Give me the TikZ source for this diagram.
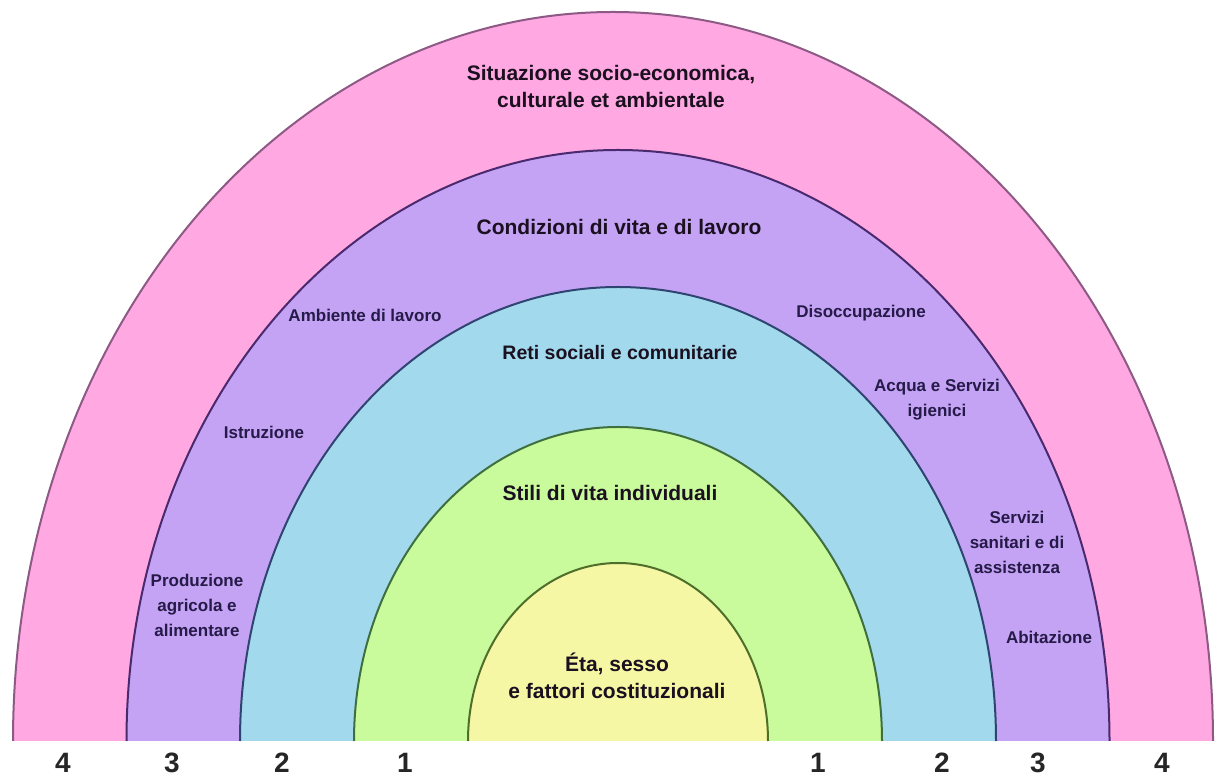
\documentclass[tikz,border=0pt]{standalone}
\usepackage{fontspec}
\setmainfont{Liberation Sans}
\definecolor{pinkF}{HTML}{FFA8E1}
\definecolor{pinkD}{HTML}{8C5A85}
\definecolor{purpF}{HTML}{C4A3F5}
\definecolor{purpD}{HTML}{4A2A6E}
\definecolor{blueF}{HTML}{A2D9EC}
\definecolor{blueD}{HTML}{2F4470}
\definecolor{greenF}{HTML}{C9FA9B}
\definecolor{greenD}{HTML}{3F6F3F}
\definecolor{yellF}{HTML}{F5F7A4}
\definecolor{yellD}{HTML}{4E6E2A}
\definecolor{titlecol}{HTML}{1A1020}
\definecolor{labcol}{HTML}{251A48}
\begin{document}
\begin{tikzpicture}[x=1pt,y=1pt,
  ringline/.style={line width=2pt},
  title/.style={font=\fontsize{21}{27}\selectfont\bfseries, text=titlecol, align=center, inner sep=0pt},
  small/.style={font=\fontsize{17}{25}\selectfont\bfseries, text=labcol, align=center, inner sep=0pt},
  num/.style={font=\fontsize{28}{30}\selectfont\bfseries, text=black!85, inner sep=0pt}]
\path[use as bounding box] (0,0) rectangle (1216,779);
\fill[white] (0,0) rectangle (1216,779);
% rings
\fill[pinkF] (13,38) arc[start angle=180,end angle=0,x radius=600pt,y radius=729pt] -- cycle;
\draw[pinkD,ringline] (13,38) arc[start angle=180,end angle=0,x radius=600pt,y radius=729pt];
\fill[purpF] (126.5,38) arc[start angle=180,end angle=0,x radius=491.5pt,y radius=591pt] -- cycle;
\draw[purpD,ringline] (126.5,38) arc[start angle=180,end angle=0,x radius=491.5pt,y radius=591pt];
\fill[blueF] (240,38) arc[start angle=180,end angle=0,x radius=378pt,y radius=454pt] -- cycle;
\draw[blueD,ringline] (240,38) arc[start angle=180,end angle=0,x radius=378pt,y radius=454pt];
\fill[greenF] (354,38) arc[start angle=180,end angle=0,x radius=264pt,y radius=314pt] -- cycle;
\draw[greenD,ringline] (354,38) arc[start angle=180,end angle=0,x radius=264pt,y radius=314pt];
\fill[yellF] (468,38) arc[start angle=180,end angle=0,x radius=150pt,y radius=178pt] -- cycle;
\draw[yellD,ringline] (468,38) arc[start angle=180,end angle=0,x radius=150pt,y radius=178pt];
% titles
\node[title] (t4) at (611,692.5) {Situazione socio-economica,\\culturale et ambientale};
\node[title] (t3) at (619,552) {Condizioni di vita e di lavoro};
\node[title,font=\fontsize{19.5}{25}\selectfont\bfseries] (t2) at (620,426) {Reti sociali e comunitarie};
\node[title] (t1) at (610,286) {Stili di vita individuali};
\node[title] (t0) at (617,103) {Éta, sesso\\e fattori costituzionali};
% small labels
\node[small] (amb) at (365,464) {Ambiente di lavoro};
\node[small] (dis) at (861,466) {Disoccupazione};
\node[small] (acq) at (937,379) {Acqua e Servizi\\igienici};
\node[small] (ist) at (264,347) {Istruzione};
\node[small] (ser) at (1017,237) {Servizi\\sanitari e di\\assistenza};
\node[small] (pro) at (197,174) {Produzione\\agricola e\\alimentare};
\node[small] (abi) at (1049,142) {Abitazione};
% numbers
\node[num] (l4) at (63,16) {4};
\node[num] (l3) at (172,16) {3};
\node[num] (l2) at (282,16) {2};
\node[num] (l1) at (405,16) {1};
\node[num] (r1) at (818,16) {1};
\node[num] (r2) at (942,16) {2};
\node[num] (r3) at (1038,16) {3};
\node[num] (r4) at (1162,16) {4};
\end{tikzpicture}
\end{document}
